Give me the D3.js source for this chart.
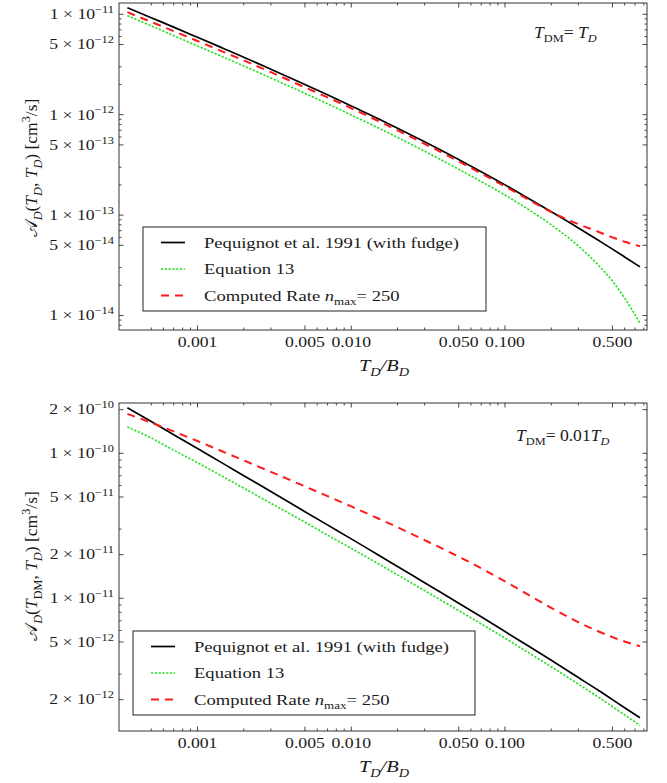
<!DOCTYPE html>
<html><head><meta charset="utf-8">
<script src="https://cdn.jsdelivr.net/npm/d3@7"></script>
<style>
body{margin:0;background:#fff}
text{font-family:"Liberation Serif","Times New Roman",serif;fill:#1a1a1a}
</style>
</head><body>
<svg id="chart" width="667" height="783"></svg>
<script>
// ---------- data ----------
const xValues = [3.5e-4,5e-4,7e-4,1e-3,1.5e-3,2e-3,3e-3,5e-3,7e-3,1e-2,1.5e-2,2e-2,3e-2,5e-2,7e-2,0.1,0.15,0.2,0.3,0.4,0.5,0.6,0.755];

const topPequignot = [1.164e-11,9.25e-12,7.45e-12,5.90e-12,4.52e-12,3.74e-12,2.84e-12,2.00e-12,1.58e-12,1.22e-12,9.10e-13,7.33e-13,5.37e-13,3.57e-13,2.71e-13,2.00e-13,1.40e-13,1.08e-13,7.45e-14,5.67e-14,4.58e-14,3.83e-14,3.05e-14];
const topEquation13 = [9.70e-12,7.66e-12,6.13e-12,4.84e-12,3.70e-12,3.06e-12,2.32e-12,1.63e-12,1.286e-12,9.92e-13,7.38e-13,5.94e-13,4.33e-13,2.86e-13,2.16e-13,1.584e-13,1.078e-13,7.99e-14,4.92e-14,3.23e-14,2.20e-14,1.49e-14,8.4e-15];
const topComputed = [1.05e-11,8.40e-12,6.80e-12,5.42e-12,4.18e-12,3.47e-12,2.65e-12,1.87e-12,1.49e-12,1.16e-12,8.65e-13,6.98e-13,5.13e-13,3.42e-13,2.60e-13,1.93e-13,1.36e-13,1.07e-13,8.13e-14,6.87e-14,6.00e-14,5.42e-14,4.90e-14];

const bottomPequignot = [2.06e-10,1.656e-10,1.345e-10,1.078e-10,8.39e-11,7.01e-11,5.45e-11,3.96e-11,3.21e-11,2.57e-11,1.99e-11,1.66e-11,1.28e-11,9.25e-12,7.45e-12,5.90e-12,4.52e-12,3.74e-12,2.84e-12,2.34e-12,2.00e-12,1.76e-12,1.50e-12];
const bottomEquation13 = [1.52e-10,1.275e-10,1.05e-10,8.62e-11,6.80e-11,5.75e-11,4.52e-11,3.35e-11,2.73e-11,2.21e-11,1.73e-11,1.45e-11,1.13e-11,8.23e-12,6.67e-12,5.31e-12,4.07e-12,3.37e-12,2.56e-12,2.10e-12,1.79e-12,1.57e-12,1.33e-12];
const bottomComputed = [1.87e-10,1.627e-10,1.416e-10,1.215e-10,1.016e-10,8.93e-11,7.45e-11,5.91e-11,5.07e-11,4.30e-11,3.55e-11,3.09e-11,2.52e-11,1.936e-11,1.61e-11,1.309e-11,1.023e-11,8.59e-12,6.84e-12,5.95e-12,5.40e-12,5.04e-12,4.67e-12];

const xTickValues = [0.001,0.005,0.01,0.05,0.1,0.5];
const xTickLabels = ["0.001","0.005","0.010","0.050","0.100","0.500"];
const topYTickValues = [1e-11,5e-12,1e-12,5e-13,1e-13,5e-14,1e-14];
const topYTickLabels = [["1","\u221211"],["5","\u221212"],["1","\u221212"],["5","\u221213"],["1","\u221213"],["5","\u221214"],["1","\u221214"]];
const bottomYTickValues = [2e-10,1e-10,5e-11,2e-11,1e-11,5e-12,2e-12];
const bottomYTickLabels = [["2","\u221210"],["1","\u221210"],["5","\u221211"],["2","\u221211"],["1","\u221211"],["5","\u221212"],["2","\u221212"]];
const legendLabels = ["Pequignot et al. 1991 (with fudge)","Equation 13","Computed Rate"];

// ---------- drawing ----------
const svg = d3.select("#chart");
const X0 = 119, X1 = 647;
const x = d3.scaleLog().domain([3.086e-4, 0.8387]).range([X0, X1]);

const styles = [
  {stroke:"#000000", width:1.7, dash:null},
  {stroke:"#22e01c", width:1.6, dash:"2.2,1.6"},
  {stroke:"#ff1a1a", width:2.0, dash:"8,6"}
];

function rich(t, parts, size){
  let shift = 0;
  parts.forEach(p=>{
    const target = p.sub ? size*0.28 : (p.sup ? -size*0.42 : 0);
    t.append("tspan").text(p.t)
      .attr("dy", (target-shift).toFixed(2))
      .style("font-size", ((p.sub||p.sup)? size*0.7 : size)+"px")
      .style("font-style", p.i ? "italic" : "normal");
    shift = target;
  });
}
function stext(g, px, py, sx, anchor){
  return g.append("text").attr("text-anchor",anchor||"start")
    .attr("transform",`translate(${px},${py}) scale(${sx},1)`);
}

function minorTicks(lo, hi, mults){
  const out=[];
  for(let e=Math.floor(Math.log10(lo))-1;e<=Math.ceil(Math.log10(hi));e++){
    mults.forEach(m=>{const v=m*Math.pow(10,e); if(v>lo*1.001 && v<hi*0.999) out.push(v);});
  }
  return out;
}

function panel(cfg){
  const y = d3.scaleLog().domain(cfg.yDomain).range(cfg.yRange);
  const Y0 = cfg.yRange[1], Y1 = cfg.yRange[0];
  const g = svg.append("g");
  const axisCol = "#333";
  g.append("rect").attr("x",X0).attr("y",Y0).attr("width",X1-X0).attr("height",Y1-Y0)
    .attr("fill","none").attr("stroke",axisCol).attr("stroke-width",1);
  const xMinor = minorTicks(x.domain()[0], x.domain()[1], [2,3,6,7,8,9]).concat([5e-4]);
  const tk = g.append("g").attr("stroke",axisCol).attr("stroke-width",0.9);
  [[xTickValues,4.5],[xMinor,2.5]].forEach(([vals,len])=>{
    vals.forEach(v=>{
      tk.append("line").attr("x1",x(v)).attr("x2",x(v)).attr("y1",Y1).attr("y2",Y1-len);
      tk.append("line").attr("x1",x(v)).attr("x2",x(v)).attr("y1",Y0).attr("y2",Y0+len);
    });
  });
  const yMinor = minorTicks(cfg.yDomain[0], cfg.yDomain[1], cfg.yMinorMults);
  [[cfg.yTicks,4.5],[yMinor,2.5]].forEach(([vals,len])=>{
    vals.forEach(v=>{
      tk.append("line").attr("y1",y(v)).attr("y2",y(v)).attr("x1",X0).attr("x2",X0+len);
      tk.append("line").attr("y1",y(v)).attr("y2",y(v)).attr("x1",X1).attr("x2",X1-len);
    });
  });
  xTickValues.forEach((v,i)=>{
    stext(g, x(v), Y1+17, 1.22, "middle").style("font-size","14.5px").text(xTickLabels[i]);
  });
  cfg.yTicks.forEach((v,i)=>{
    const t = stext(g, 114, y(v)+4.8, 1.22, "end");
    rich(t,[{t:cfg.yLabels[i][0]},{t:" \u00d7 10"},{t:cfg.yLabels[i][1],sup:true}],14.5);
  });
  const xt = stext(g, 384, Y1+41, 1.2, "middle");
  rich(xt,[{t:"T",i:true},{t:"D",i:true,sub:true},{t:"/B",i:true},{t:"D",i:true,sub:true}],17);
  const yt = g.append("text").attr("text-anchor","middle")
    .attr("transform",`translate(37,${cfg.yTitleY}) rotate(-90)`);
  rich(yt,cfg.yTitle,17.5);
  const an = stext(g, cfg.annX, cfg.annY, 1.1, "start");
  rich(an,cfg.ann,16);
  const line = d3.line().x((d,i)=>x(xValues[i])).y(d=>y(d)).curve(d3.curveMonotoneX);
  const clip = "clip"+cfg.id;
  g.append("clipPath").attr("id",clip).append("rect").attr("x",X0).attr("y",Y0).attr("width",X1-X0).attr("height",Y1-Y0);
  [0,2,1].forEach(k=>{
    const st = styles[k];
    g.append("path").datum(cfg.series[k]).attr("d",line).attr("fill","none")
      .attr("clip-path",`url(#${clip})`)
      .attr("stroke",st.stroke).attr("stroke-width",st.width)
      .attr("stroke-dasharray",st.dash);
  });
  const L = cfg.legend;
  g.append("rect").attr("x",L.x).attr("y",L.y).attr("width",L.w).attr("height",L.h)
    .attr("fill","#fff").attr("stroke","#222").attr("stroke-width",1);
  legendLabels.forEach((lab,i)=>{
    const ly = L.y + 15.5 + i*26.5;
    const st = styles[i];
    g.append("line").attr("x1",L.x+18).attr("x2",L.x+42).attr("y1",ly).attr("y2",ly)
      .attr("stroke",st.stroke).attr("stroke-width",st.width).attr("stroke-dasharray",st.dash);
    const t = stext(g, L.x+61, ly+5, 1.2, "start");
    if(i===2){
      rich(t,[{t:lab+" "},{t:"n",i:true},{t:"max",sub:true},{t:"= 250"}],15.5);
    } else {
      rich(t,[{t:lab}],15.5);
    }
  });
}

panel({
  id:"top",
  yDomain:[7.17e-15,1.296e-11], yRange:[330,3],
  yTicks:topYTickValues, yLabels:topYTickLabels, yMinorMults:[2,3,6,7,8,9],
  series:[topPequignot, topEquation13, topComputed],
  yTitleY:168,
  yTitle:[{t:"\ud835\udc9c"},{t:"D",i:true,sub:true},{t:"("},{t:"T",i:true},{t:"D",i:true,sub:true},{t:", "},{t:"T",i:true},{t:"D",i:true,sub:true},{t:") [cm"},{t:"3",sup:true},{t:"/s]"}],
  annX:534, annY:38,
  ann:[{t:"T",i:true},{t:"DM",sub:true},{t:"= "},{t:"T",i:true},{t:"D",i:true,sub:true}],
  legend:{x:143,y:227,w:343,h:84}
});
panel({
  id:"bottom",
  yDomain:[1.216e-12,2.223e-10], yRange:[731,403],
  yTicks:bottomYTickValues, yLabels:bottomYTickLabels, yMinorMults:[3,6,7,8,9],
  series:[bottomPequignot, bottomEquation13, bottomComputed],
  yTitleY:566,
  yTitle:[{t:"\ud835\udc9c"},{t:"D",i:true,sub:true},{t:"("},{t:"T",i:true},{t:"DM",sub:true},{t:", "},{t:"T",i:true},{t:"D",i:true,sub:true},{t:") [cm"},{t:"3",sup:true},{t:"/s]"}],
  annX:516, annY:441,
  ann:[{t:"T",i:true},{t:"DM",sub:true},{t:"= 0.01"},{t:"T",i:true},{t:"D",i:true,sub:true}],
  legend:{x:133,y:631,w:342,h:84}
});
</script>
</body></html>
